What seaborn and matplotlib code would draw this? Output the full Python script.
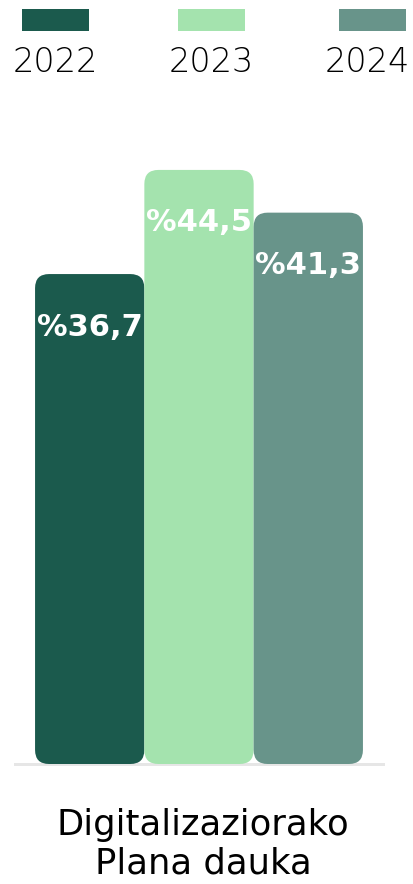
import matplotlib
matplotlib.use("Agg")
import matplotlib.pyplot as plt
import matplotlib.transforms as mtransforms
import seaborn as sns
import pandas as pd
from matplotlib.patches import FancyBboxPatch, Rectangle

# ---- data ----
category = ["Digitalizaziorako\nPlana dauka"]
years = ["2022", "2023", "2024"]
values = [36.7, 44.5, 41.3]
labels = ["%36,7", "%44,5", "%41,3"]
colors = ["#1B5A4D", "#A4E3AE", "#68948A"]

df = pd.DataFrame({"cat": category * 3, "year": years, "value": values})

sns.set_theme(style="white")
plt.rcParams["font.family"] = ["DejaVu Sans"]

W, H = 413, 884
fig = plt.figure(figsize=(W / 100, H / 100), dpi=100)
ax = fig.add_axes([15 / W, 120 / H, 368 / W, 667.5 / H])

sns.barplot(data=df, x="cat", y="value", hue="year", palette=colors,
            width=0.891, dodge=True, ax=ax, legend=False, saturation=1)
ax.set_xlim(-0.5, 0.5)
ax.set_ylim(0, 50)

# pixel scales
fig.canvas.draw()
p0 = ax.transData.transform((0, 0))
p1 = ax.transData.transform((1, 1))
px_x = p1[0] - p0[0]
px_y = p1[1] - p0[1]
r_px = 14
aspect = px_x / px_y

# replace rectangles with rounded boxes
bars = list(ax.patches)
for b, lab in zip(bars, labels):
    x, y = b.get_x(), b.get_y()
    w, h = b.get_width(), b.get_height()
    fc = b.get_facecolor()
    b.set_visible(False)
    fb = FancyBboxPatch((x, y), w, h,
                        boxstyle=f"round,pad=0,rounding_size={r_px / px_x}",
                        mutation_aspect=aspect, fc=fc, ec="none", zorder=3)
    ax.add_patch(fb)
    ax.annotate(lab, (x + w / 2, h), xytext=(0, -53 * 0.72),
                textcoords="offset points", ha="center", va="center",
                color="white", fontsize=22, fontweight="bold", zorder=4)

for s in ["top", "right", "left"]:
    ax.spines[s].set_visible(False)
ax.spines["bottom"].set_color("#E6E6E6")
ax.spines["bottom"].set_linewidth(3 * 0.72)
ax.spines["bottom"].set_zorder(2)
ax.set_yticks([])
ax.set_xlabel("")
ax.set_ylabel("")
ax.tick_params(axis="x", length=0, pad=32, labelsize=25.5)
shift = mtransforms.ScaledTranslation(4 / 100, 0, fig.dpi_scale_trans)
for t in ax.get_xticklabels():
    t.set_linespacing(1.15)
    t.set_color("#000000")
    t.set_transform(t.get_transform() + shift)

# legend: swatch above label
sw_x = [22, 178, 339]
lab_x = [55, 211, 367]
for xs, lx, yr, c in zip(sw_x, lab_x, years, colors):
    fig.add_artist(Rectangle((xs / W, 1 - 31 / H), 67 / W, 22 / H,
                             transform=fig.transFigure, fc=c, ec="none"))
    fig.text(lx / W, 1 - 62 / H, yr, ha="center", va="center",
             fontsize=24, fontweight="light", color="#000000")

fig.savefig("out.png", dpi=100, facecolor="white")
